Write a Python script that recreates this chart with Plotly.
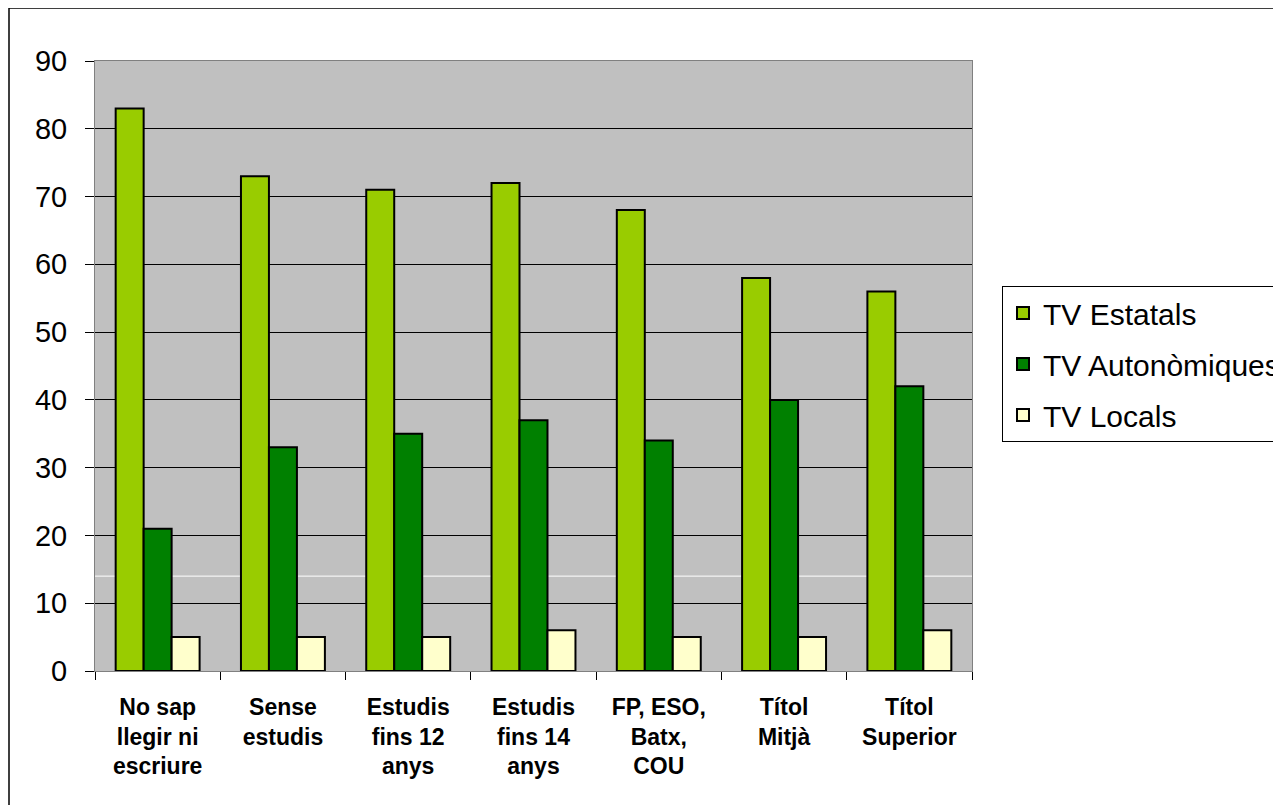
import plotly.graph_objects as go

categories = ["No sap<br>llegir ni<br>escriure", "Sense<br>estudis", "Estudis<br>fins 12<br>anys",
              "Estudis<br>fins 14<br>anys", "FP, ESO,<br>Batx,<br>COU", "Títol<br>Mitjà", "Títol<br>Superior"]
tv_estatals = [83, 73, 71, 72, 68, 58, 56]
tv_autonomiques = [21, 33, 35, 37, 34, 40, 42]
tv_locals = [5, 5, 5, 6, 5, 5, 6]
y_ticks = [0, 10, 20, 30, 40, 50, 60, 70, 80, 90]

series = [("TV Estatals", tv_estatals, "#99CC00"),
          ("TV Autonòmiques", tv_autonomiques, "#008000"),
          ("TV Locals", tv_locals, "#FFFFCC")]

fig = go.Figure()
for i, (name, vals, col) in enumerate(series):
    fig.add_trace(go.Bar(x=categories, y=vals, name=name, legendgroup=f"g{i}",
                         marker=dict(color=col, line=dict(color="black", width=2))))

OFF = 8  # page body margin
W, H = 1281 - OFF, 805 - OFF
L, T = 95 - OFF, 61 - OFF
pw, ph = 877, 610
R, B = W - L - pw, H - T - ph

fig.update_layout(
    width=W, height=H,
    margin=dict(l=L, r=R, t=T, b=B, pad=0, autoexpand=False),
    paper_bgcolor="white", plot_bgcolor="#C0C0C0",
    barmode="group", bargap=0.33, bargroupgap=0,
    font=dict(family="Liberation Sans, Arial, sans-serif", color="black"),
    legend=dict(x=(1002 - 95) / pw, y=(671 - 286) / ph, xanchor="left", yanchor="top",
                bgcolor="white", bordercolor="black", borderwidth=1,
                font=dict(size=30), tracegroupgap=9),
    showlegend=True,
)
fig.update_yaxes(range=[0, 90], tickvals=y_ticks, showgrid=True, gridcolor="black", gridwidth=1,
                 zeroline=False, showline=True, linecolor="#808080", linewidth=1, mirror=True,
                 ticks="outside", ticklen=9, tickcolor="black", tickfont=dict(size=29),
                 ticklabelstandoff=12)
fig.update_xaxes(showline=True, linecolor="#808080", linewidth=1, mirror=True,
                 ticks="outside", tickson="boundaries", ticklen=8, tickcolor="black",
                 tickfont=dict(size=23, family="Liberation Sans, Arial, sans-serif"),
                 tickangle=0, ticklabelstandoff=15)
fig.update_xaxes(ticktext=["<b>" + c.replace("<br>", "</b><br><b>") + "</b>" for c in categories],
                 tickvals=categories)

# faint white line visible in reference background
fig.add_shape(type="line", xref="paper", yref="y", x0=0, x1=1, y0=14, y1=14,
              line=dict(color="white", width=1), layer="below")
# outer chart border
fig.add_shape(type="rect", xref="paper", yref="paper",
              x0=(9 - 95) / pw, x1=(1300 - 95) / pw,
              y0=-(830 - 671) / ph, y1=1 + (61 - 8) / ph,
              line=dict(color="black", width=1.5), fillcolor="rgba(0,0,0,0)", layer="above")

fig.write_html("out.html")
